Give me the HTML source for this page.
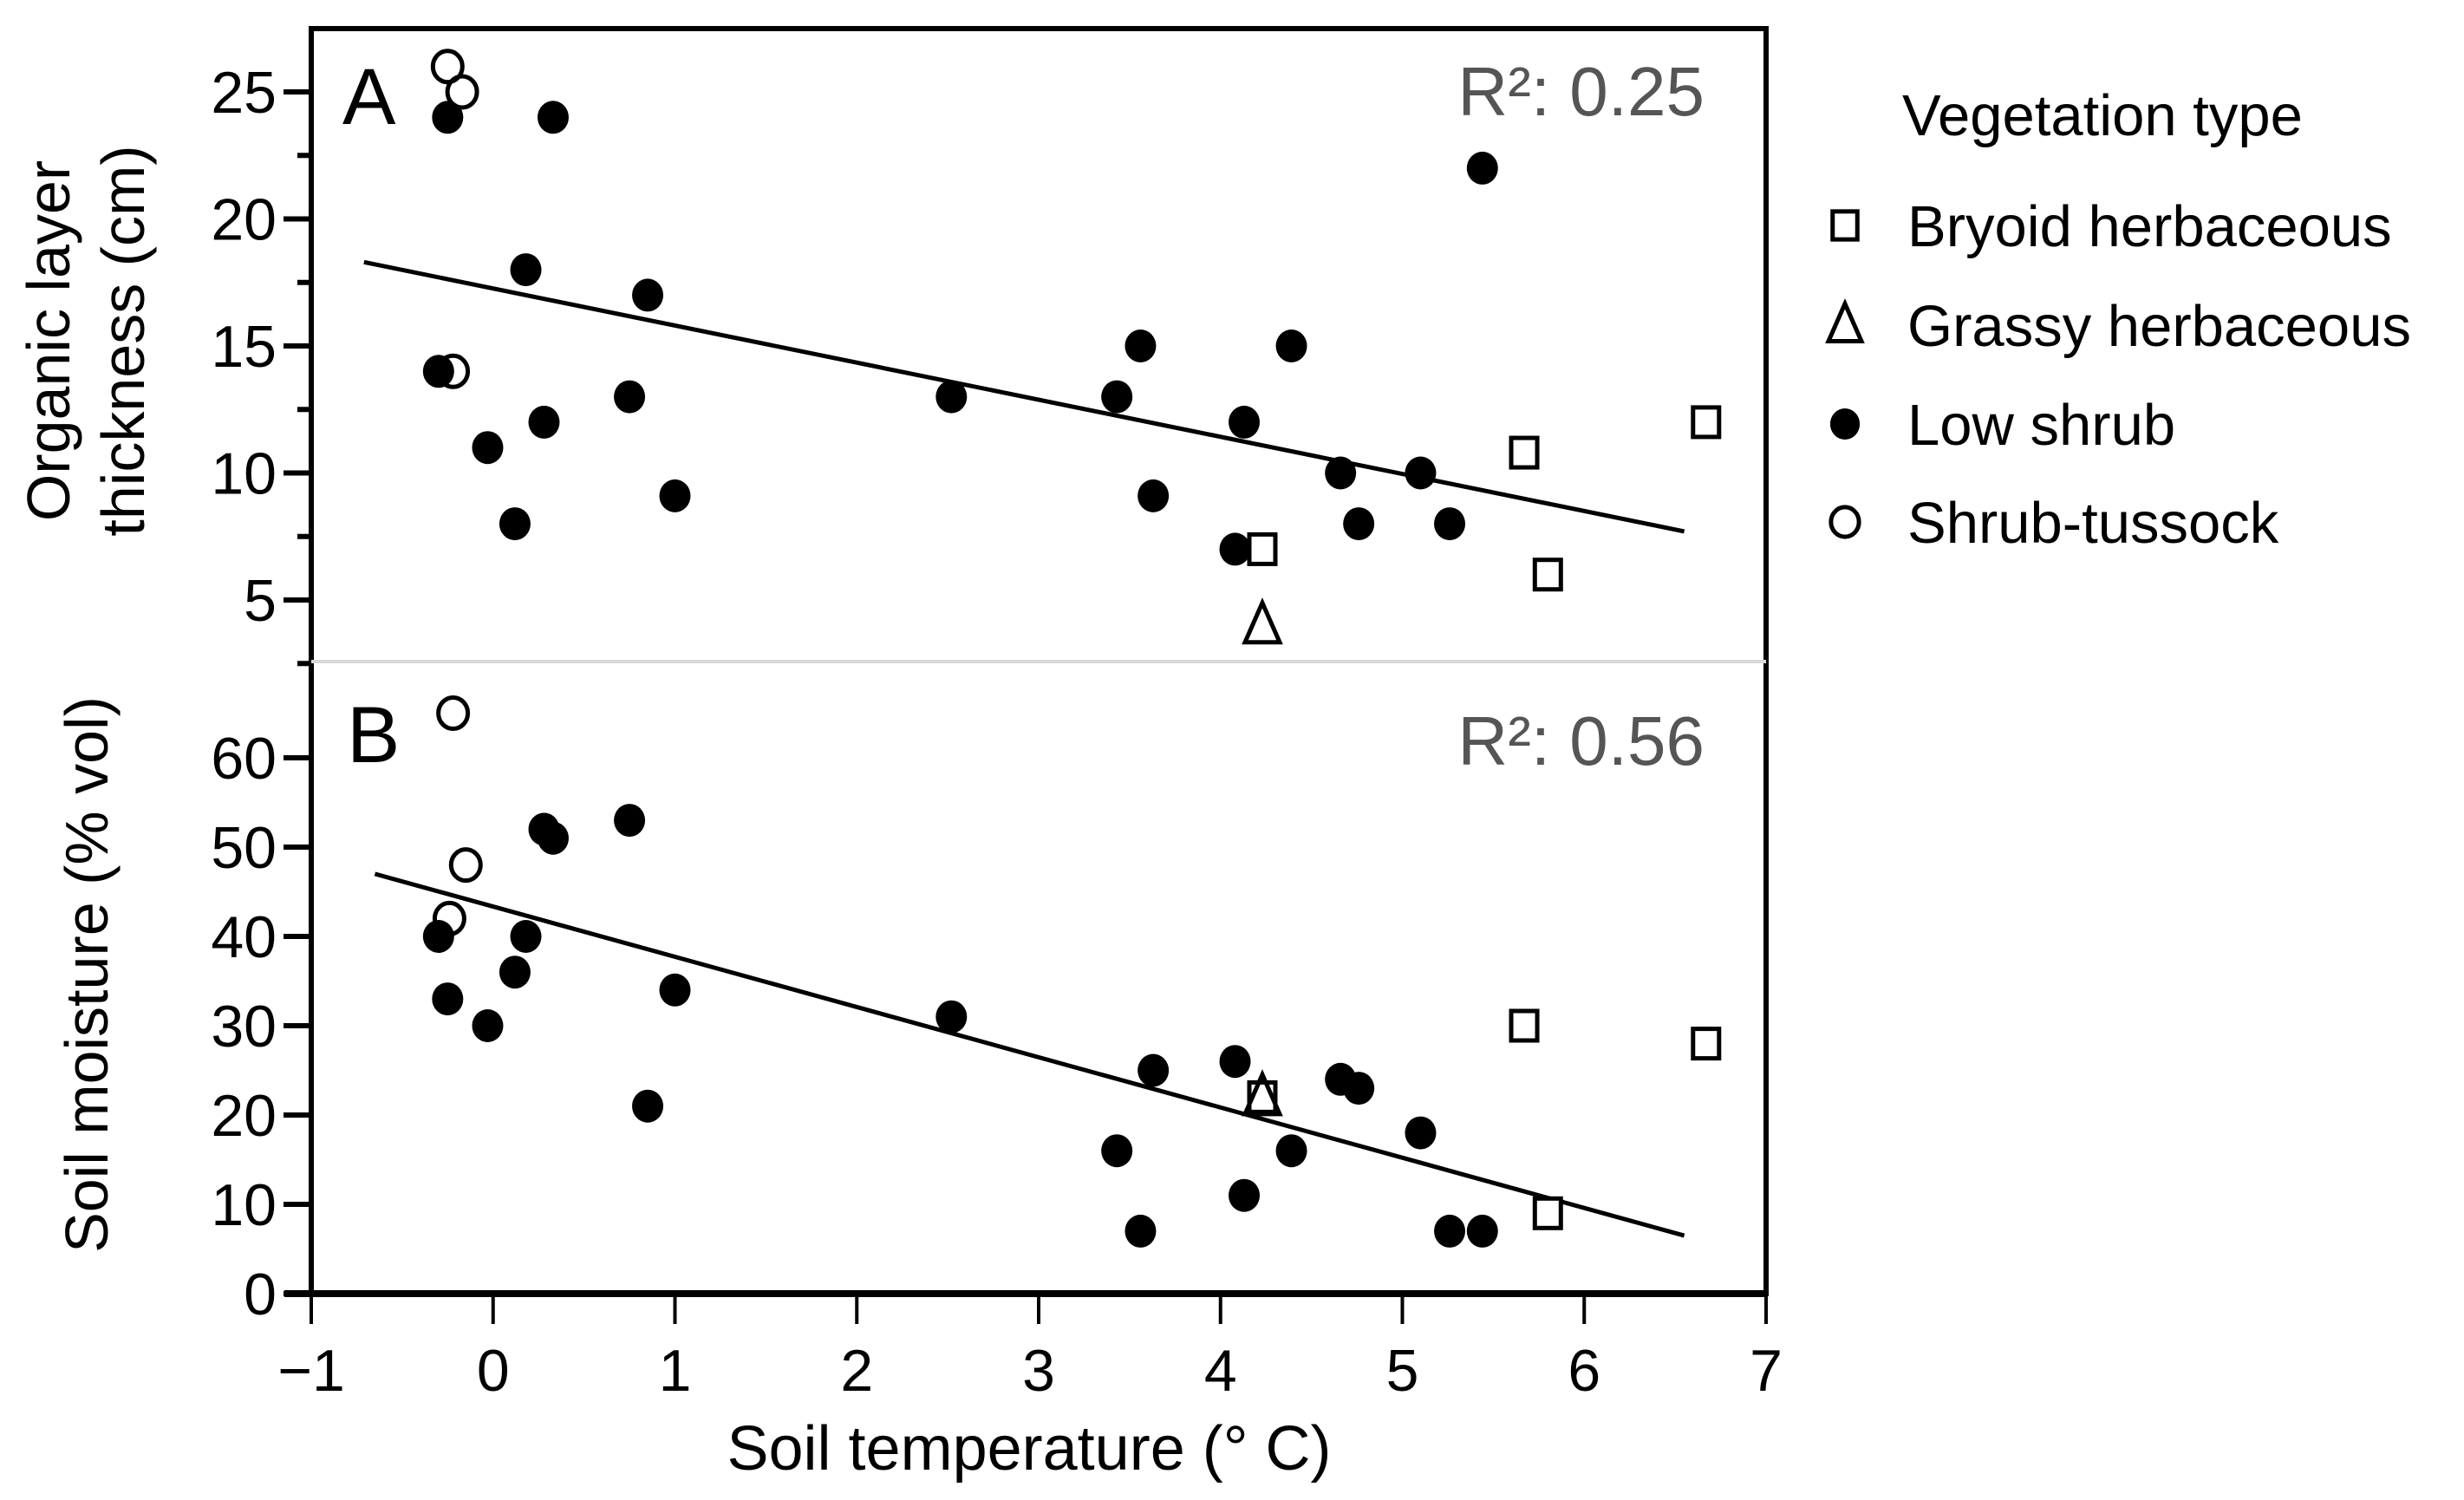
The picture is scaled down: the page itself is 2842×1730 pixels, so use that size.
<!DOCTYPE html>
<html><head><meta charset="utf-8"><style>
html,body{margin:0;padding:0;background:#fff}
svg{display:block;font-family:"Liberation Sans",Arial,sans-serif}
</style></head><body>
<svg id="chart" width="2842" height="1730" viewBox="0 0 2842 1730" xmlns="http://www.w3.org/2000/svg"></svg>
<script>
// ---- data ----
const xTicks = [-1,0,1,2,3,4,5,6,7];
const xTickLabels = ["\u22121","0","1","2","3","4","5","6","7"];
const aTicks = [5,10,15,20,25];
const aMinor = [2.5,7.5,12.5,17.5,22.5];
const bTicks = [0,10,20,30,40,50,60];
// Panel A: organic layer thickness
const aShrubX = [-0.25,0.33,-0.3,0.18,0.85,-0.03,0.28,0.75,0.12,1.0,2.52,3.43,3.56,3.63,4.08,4.13,4.39,4.66,4.76,5.1,5.26,5.44];
const aShrubY = [24,24,14,18,17,11,12,13,8,9.1,13,13,15,9.1,7,12,15,10,8,10,8,22];
const aTussX = [-0.25,-0.17,-0.22];
const aTussY = [26,25,14];
const aBryX = [4.23,5.67,5.8,6.67];
const aBryY = [7,10.8,6,12];
const aGrassX = [4.23];
const aGrassY = [4];
const aFitX = [-0.71,6.55];
const aFitY = [18.3,7.7];
// Panel B: soil moisture
const bShrubX = [-0.3,-0.25,-0.03,0.12,0.18,0.28,0.33,0.75,0.85,1.0,2.52,3.43,3.56,3.63,4.08,4.13,4.39,4.66,4.76,5.1,5.26,5.44];
const bShrubY = [40,33,30,36,40,52,51,53,21,34,31,16,7,25,26,11,16,24,23,18,7,7];
const bTussX = [-0.22,-0.15,-0.24];
const bTussY = [65,48,42];
const bBryX = [4.23,5.67,5.8,6.67];
const bBryY = [22,30,9,28];
const bGrassX = [4.23];
const bGrassY = [22];
const bFitX = [-0.65,6.55];
const bFitY = [47,6.5];

// ---- geometry ----
const L=359,R=2037,T=33,MID=763,B=1492;
const sx = v => L + (v+1)*(R-L)/8;
const syA = v => 106 + (25-v)*29.3;
const syB = v => B - v*10.3;
const NS="http://www.w3.org/2000/svg";
const svg=document.getElementById('chart');
function mk(tag,attrs,parent){const e=document.createElementNS(NS,tag);for(const k in attrs)e.setAttribute(k,attrs[k]);(parent||svg).appendChild(e);return e;}
function txt(s,attrs,parent){const e=mk('text',attrs,parent);e.textContent=s;return e;}

// frame
let g=mk('g',{});


mk('rect',{x:L,y:T,width:R-L,height:B-T,fill:'none',stroke:'#000','stroke-width':6},g);
mk('line',{x1:L,y1:MID,x2:R,y2:MID,stroke:'#d8d8d8','stroke-width':4},g);
mk('line',{x1:328,y1:B,x2:R,y2:B,stroke:'#000','stroke-width':8},g);

// x axis
const xa=mk('g',{});


xTicks.forEach((t,i)=>{
  mk('line',{x1:sx(t),y1:B,x2:sx(t),y2:1527,stroke:'#000','stroke-width':4},xa);
  const l=txt(xTickLabels[i],{x:sx(t),y:1604,'font-size':68,'text-anchor':'middle',fill:'#000'},xa);
  
  
});
const xt=txt('Soil temperature (° C)',{x:1187,y:1695,'font-size':72,'text-anchor':'middle'});



// y axis A
const ya=mk('g',{});


aTicks.forEach(t=>{
  mk('line',{x1:327,y1:syA(t),x2:L,y2:syA(t),stroke:'#000','stroke-width':6},ya);
  const l=txt(String(t),{x:319,y:syA(t)+24,'font-size':68,'text-anchor':'end'},ya);
  
  
});
aMinor.forEach(t=>{mk('line',{x1:343,y1:syA(t),x2:L,y2:syA(t),stroke:'#000','stroke-width':6},ya);});
const yta=txt('',{transform:'translate(100,393) rotate(-90)','font-size':70,'text-anchor':'middle'});


mk('tspan',{x:0,y:-20},yta).textContent='Organic layer';
mk('tspan',{x:0,y:66},yta).textContent='thickness (cm)';

// y axis B
const yb=mk('g',{});


bTicks.forEach(t=>{
  mk('line',{x1:327,y1:syB(t),x2:L,y2:syB(t),stroke:'#000','stroke-width':6},yb);
  const l=txt(String(t),{x:319,y:syB(t)+24,'font-size':68,'text-anchor':'end'},yb);
  
  
});
const ytb=txt('Soil moisture (% vol)',{transform:'translate(124,1124) rotate(-90)','font-size':70,'text-anchor':'middle'});



// panel labels
const pa=txt('A',{x:395,y:143,'font-size':92});


const pb=txt('B',{x:400,y:879,'font-size':92});


const ra=txt('R²: 0.25',{x:1966,y:133,'font-size':80,'text-anchor':'end',fill:'#555'});


const rb=txt('R²: 0.56',{x:1966,y:882,'font-size':80,'text-anchor':'end',fill:'#555'});



// markers
function marker(kind,cx,cy,parent,scale){
  const s=scale||1;
  if(kind==='shrub') return mk('ellipse',{cx,cy,rx:18*s,ry:19*s,fill:'#000'},parent);
  if(kind==='tuss') return mk('ellipse',{cx,cy,rx:17*s,ry:18*s,fill:'none',stroke:'#000','stroke-width':5},parent);
  if(kind==='bry') return mk('rect',{x:cx-15*s,y:cy-17*s,width:30*s,height:34*s,fill:'#fff',stroke:'#000','stroke-width':5},parent);
  if(kind==='grass'){const h=26*s;return mk('polygon',{points:`${cx},${cy-h} ${cx-20*s},${cy+h*0.75} ${cx+20*s},${cy+h*0.75}`,fill:'none',stroke:'#000','stroke-width':5},parent);}
}
function series(xs,ys,sy,kind,name){
  const gg=mk('g',{});
  
  
  xs.forEach((x,i)=>{
    const m=marker(kind,sx(x),sy(ys[i]),gg);
    
    
  });
}
function fit(xs,ys,sy,name){
  const l=mk('line',{x1:sx(xs[0]),y1:sy(ys[0]),x2:sx(xs[1]),y2:sy(ys[1]),stroke:'#000','stroke-width':5});
  
  
}
fit(aFitX,aFitY,syA,'regression-line-a');
fit(bFitX,bFitY,syB,'regression-line-b');
series(aShrubX,aShrubY,syA,'shrub','low-shrub-a');
series(aTussX,aTussY,syA,'tuss','shrub-tussock-a');
series(aBryX,aBryY,syA,'bry','bryoid-a');
series(aGrassX,aGrassY,syA,'grass','grassy-a');
series(bShrubX,bShrubY,syB,'shrub','low-shrub-b');
series(bTussX,bTussY,syB,'tuss','shrub-tussock-b');
series(bBryX,bBryY,syB,'bry','bryoid-b');
series(bGrassX,bGrassY,syB,'grass','grassy-b');

// legend
const lg=mk('g',{});


const lt=txt('Vegetation type',{x:2194,y:156,'font-size':67},lg);


const legKinds=['bry','grass','shrub','tuss'];
const legNames=['Bryoid herbaceous','Grassy herbaceous','Low shrub','Shrub-tussock'];
const legY=[284,399,513,626];
legKinds.forEach((k,i)=>{
  const e=mk('g',{},lg);
  
  
  marker(k,2128,legY[i]-24,e,0.95);
  txt(legNames[i],{x:2200,y:legY[i],'font-size':67},e);
});
</script>
</body></html>
